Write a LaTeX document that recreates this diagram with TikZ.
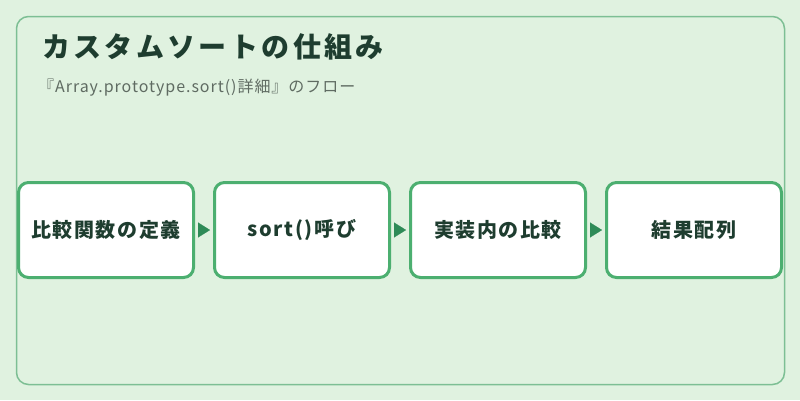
\documentclass[tikz,border=0pt]{standalone}
\usepackage{fontspec}
\setmainfont{Noto Sans CJK JP}
\usetikzlibrary{arrows.meta}
\definecolor{bgmint}{HTML}{E0F2E0}
\definecolor{framegreen}{HTML}{7DBF94}
\definecolor{boxgreen}{HTML}{4CAF70}
\definecolor{tipgreen}{HTML}{2E8B57}
\definecolor{inkgreen}{HTML}{1E3D2F}
\definecolor{subgrey}{HTML}{5F6B62}
\tikzset{
  stepbox/.style={draw=boxgreen, line width=3pt, fill=white, rounded corners=10pt,
    minimum width=175pt, minimum height=95pt, text=inkgreen,
    font=\fontsize{20}{22}\selectfont\bfseries\addfontfeature{LetterSpace=8}},
  flowtip/.style={-{Triangle[length=12pt,width=15pt]}, tipgreen, line width=0.1pt,
    shorten <=3pt, shorten >=3pt}
}
\begin{document}
\begin{tikzpicture}[x=1pt,y=-1pt]
    \fill[bgmint] (0,0) rectangle (800,400);
    \useasboundingbox (0,0) rectangle (800,400);
    \draw[framegreen, line width=1.5pt, rounded corners=12pt] (16.5,16.5) rectangle (784.5,384.5);
    \node[anchor=west, text=inkgreen, inner sep=0pt,
      font=\fontsize{28}{32}\selectfont\bfseries\addfontfeature{LetterSpace=12}] (title) at (42,47) {カスタムソートの仕組み};
    \node[anchor=west, text=subgrey, inner sep=0pt,
      font=\fontsize{16}{19}\selectfont\addfontfeature{LetterSpace=6}] (subtitle) at (38,88) {『Array.prototype.sort()詳細』のフロー};
    \node[stepbox] (define) at (106,230) {比較関数の定義};
    \node[stepbox] (call) at (302,230) {sort()呼び};
    \node[stepbox] (compare) at (498,230) {実装内の比較};
    \node[stepbox] (result) at (694,230) {結果配列};
    \draw[flowtip] (define) -- (call);
    \draw[flowtip] (call) -- (compare);
    \draw[flowtip] (compare) -- (result);
  \end{tikzpicture}
\end{document}
